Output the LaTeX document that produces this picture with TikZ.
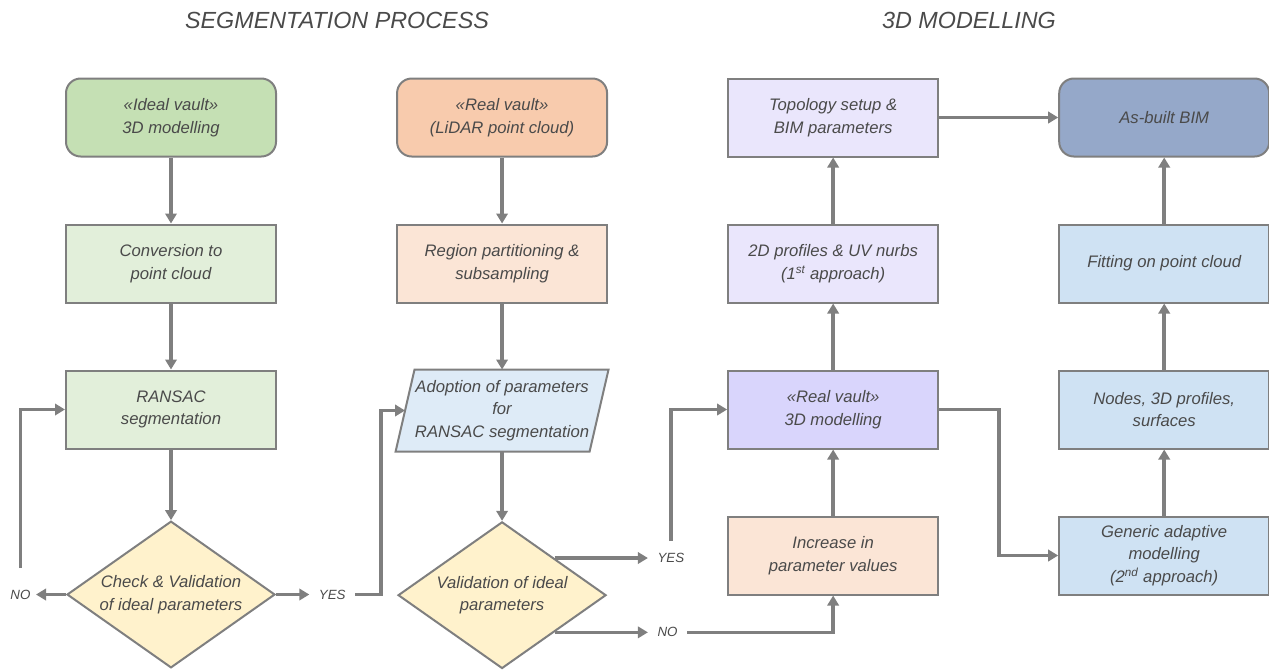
\documentclass[tikz,border=0pt]{standalone}
\usepackage{fontspec}
\setmainfont{Liberation Sans}
\usetikzlibrary{positioning,shapes.geometric,arrows.meta,backgrounds}

\definecolor{boxgray}{HTML}{7F7F7F}
\definecolor{arrowgray}{HTML}{7F7F7F}
\definecolor{txtgray}{HTML}{4A4A4A}
\definecolor{idealgreen}{HTML}{C5E0B4}
\definecolor{palegreen}{HTML}{E2EFDA}
\definecolor{realorange}{HTML}{F8CBAD}
\definecolor{paleorange}{HTML}{FBE5D6}
\definecolor{adoptblue}{HTML}{DEEBF7}
\definecolor{decyellow}{HTML}{FFF2CC}
\definecolor{lavender}{HTML}{EAE6FC}
\definecolor{vaultviolet}{HTML}{D9D5FC}
\definecolor{bimblue}{HTML}{95A8C9}
\definecolor{fitblue}{HTML}{CFE2F3}

\begin{document}
\begin{tikzpicture}[x=0.75pt,y=-0.75pt,node distance=49.5pt and 89.3pt,
  box/.style={rectangle,draw=boxgray,line width=1.5pt,minimum width=157.5pt,minimum height=58.5pt,align=center,text=txtgray,font=\fontsize{12.5}{17}\selectfont\itshape},
  start/.style={box,rounded corners=11pt},
  io/.style={box,draw=none,minimum width=144pt,minimum height=60pt,inner xsep=0pt},
  decision/.style={diamond,draw=boxgray,line width=1.5pt,fill=decyellow,minimum width=156pt,minimum height=110pt,aspect=1.41,inner sep=0pt,align=center,text=txtgray,font=\fontsize{12.5}{17}\selectfont\itshape},
  arrow/.style={-{Triangle[length=7.5pt,width=8.5pt]},line width=2.6pt,arrowgray},
  answer/.style={text=txtgray,font=\fontsize{10}{12}\selectfont\itshape,inner xsep=7pt,inner ysep=2pt},
  title/.style={text=txtgray,font=\fontsize{17.5}{20}\selectfont\itshape}
  ]
  \useasboundingbox (0,0) rectangle (1269,669);

  \node[title] (segtitle) at (337,20) {SEGMENTATION PROCESS};
  \node[title] (modtitle) at (969,20) {3D MODELLING};

  % segmentation of the ideal vault
  \node[start,fill=idealgreen] (ideal) at (171,117.5) {«Ideal vault»\\3D modelling};
  \node[box,fill=palegreen,below=of ideal] (conv) {Conversion to\\point cloud};
  \node[box,fill=palegreen,below=of conv] (ransac) {RANSAC\\segmentation};
  \node[decision,below=53pt of ransac] (check) {Check \& Validation\\of ideal parameters};
  \node[answer,inner xsep=4pt,left=22.5pt of check.west] (no1) {NO};
  \node[answer,right=25pt of check.east] (yes1) {YES};

  % segmentation of the real vault
  \node[start,fill=realorange,right=of ideal] (real) {«Real vault»\\(LiDAR point cloud)};
  \node[box,fill=paleorange,below=of real] (region) {Region partitioning \&\\subsampling};
  \node[io,below=of region] (adopt) {Adoption of parameters\\for\\RANSAC segmentation};
  \node[decision,below=52pt of adopt] (valid) {Validation of ideal\\parameters};
  \node[answer,right=70pt of valid.north east] (yes2) {YES};
  \node[answer,right=70pt of valid.south east] (no2) {NO};

  % 3D modelling, 1st approach
  \node[box,fill=lavender,right=of real] (topo) {Topology setup \&\\BIM parameters};
  \node[box,fill=lavender,below=of topo] (prof) {2D profiles \& UV nurbs\\(1\textsuperscript{st} approach)};
  \node[box,fill=vaultviolet,below=of prof] (rv3d) {«Real vault»\\3D modelling};
  \node[box,fill=paleorange,below=of rv3d] (incr) {Increase in\\parameter values};

  % 3D modelling, 2nd approach
  \node[start,fill=bimblue,right=of topo] (asbuilt) {As-built BIM};
  \node[box,fill=fitblue,below=of asbuilt] (fit) {Fitting on point cloud};
  \node[box,fill=fitblue,below=of fit] (nodes) {Nodes, 3D profiles,\\surfaces};
  \node[box,fill=fitblue,below=of nodes] (generic) {Generic adaptive\\modelling\\(2\textsuperscript{nd} approach)};

  % slanted outline behind the text
  \begin{scope}[on background layer]
    \filldraw[draw=boxgray,line width=1.5pt,fill=adoptblue] ([xshift=7.1pt]adopt.north west) -- ([xshift=7.1pt]adopt.north east)
      -- ([xshift=-7.1pt]adopt.south east) -- ([xshift=-7.1pt]adopt.south west) -- cycle;
  \end{scope}

  \draw[arrow] (ideal) -- (conv);
  \draw[arrow] (conv) -- (ransac);
  \draw[arrow] (ransac) -- (check);
  \draw[arrow] (check) -- (no1);
  \draw[arrow] ([yshift=14pt]no1.north) |- (ransac.west);
  \draw[arrow] (check) -- (yes1);
  \draw[arrow] (yes1.east) -- ++(26,0) |- (adopt.west);

  \draw[arrow] (real) -- (region);
  \draw[arrow] (region) -- (adopt);
  \draw[arrow] (adopt) -- (valid);
  \draw[arrow] (valid.north east) -- (yes2);
  \draw[arrow] (valid.south east) -- (no2);
  \draw[arrow] ([yshift=7pt]yes2.north) |- (rv3d.west);
  \draw[arrow] (no2.east) -| (incr.south);

  \draw[arrow] (incr) -- (rv3d);
  \draw[arrow] (rv3d) -- (prof);
  \draw[arrow] (prof) -- (topo);
  \draw[arrow] (topo) -- (asbuilt);
  \draw[arrow] (rv3d.east) -- ++(60,0) |- (generic.west);
  \draw[arrow] (generic) -- (nodes);
  \draw[arrow] (nodes) -- (fit);
  \draw[arrow] (fit) -- (asbuilt);
\end{tikzpicture}
\end{document}
